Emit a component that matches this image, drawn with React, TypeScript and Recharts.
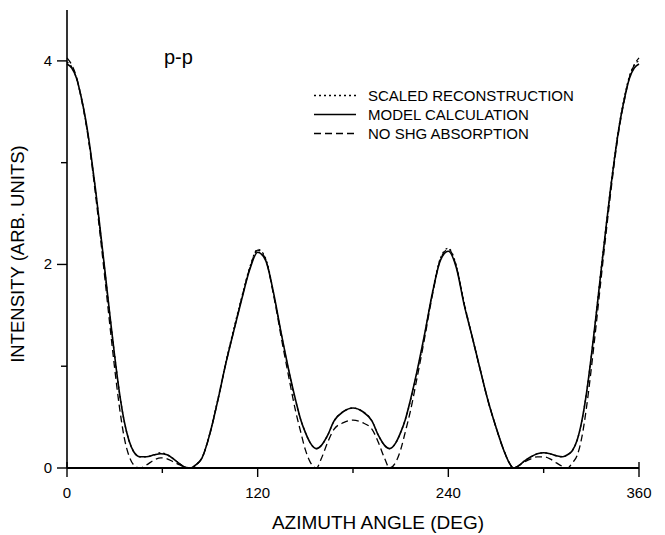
import { LineChart, Line, XAxis, YAxis, Legend, Label } from "recharts";

// azimuth angle (deg) shared by all three curves
const angles = [
  0, 3, 6, 9, 12, 15, 18, 21, 24, 27, 30, 33, 36, 39, 42, 46, 50, 55, 59, 63,
  67, 71, 75, 78, 81, 85, 90, 95, 100, 105, 110, 115, 120, 125, 130, 135, 140,
  144, 147, 150, 153, 157, 160, 164, 168, 174, 180, 186, 192, 196, 200, 203,
  207, 210, 213, 216, 220, 225, 230, 235, 240, 245, 250, 255, 260, 265, 270,
  275, 278, 281, 284, 288, 292, 296, 300, 304, 308, 312, 315, 318, 321, 324,
  327, 330, 333, 336, 339, 342, 345, 348, 351, 354, 357, 360,
];

const modelCalc = [
  3.97, 3.93, 3.83, 3.64, 3.4, 3.09, 2.73, 2.33, 1.92, 1.5, 1.1, 0.74, 0.46,
  0.27, 0.16, 0.11, 0.11, 0.13, 0.14, 0.13, 0.09, 0.04, 0.005, 0, 0.03, 0.1,
  0.34, 0.67, 1.03, 1.35, 1.66, 1.95, 2.12, 2.04, 1.72, 1.31, 0.93, 0.66, 0.48,
  0.35, 0.25, 0.19, 0.22, 0.32, 0.46, 0.555, 0.59, 0.555, 0.46, 0.32, 0.22,
  0.19, 0.25, 0.35, 0.48, 0.66, 0.93, 1.31, 1.72, 2.04, 2.13, 1.97, 1.6, 1.29,
  0.97, 0.66, 0.4, 0.17, 0.06, 0, 0.02, 0.07, 0.11, 0.14, 0.15, 0.14, 0.12,
  0.11, 0.13, 0.17, 0.27, 0.46, 0.74, 1.1, 1.5, 1.92, 2.33, 2.73, 3.09, 3.4,
  3.64, 3.83, 3.93, 3.97,
];

const scaledRecon = [
  3.99, 3.94, 3.83, 3.64, 3.39, 3.08, 2.72, 2.32, 1.91, 1.5, 1.1, 0.74, 0.46,
  0.27, 0.16, 0.11, 0.11, 0.13, 0.15, 0.13, 0.09, 0.04, 0.005, 0, 0.03, 0.1,
  0.35, 0.68, 1.04, 1.37, 1.68, 1.97, 2.15, 2.06, 1.72, 1.3, 0.92, 0.65, 0.48,
  0.35, 0.25, 0.19, 0.22, 0.32, 0.46, 0.555, 0.59, 0.555, 0.46, 0.32, 0.22,
  0.19, 0.25, 0.35, 0.48, 0.65, 0.92, 1.3, 1.73, 2.06, 2.16, 1.99, 1.62, 1.29,
  0.97, 0.66, 0.4, 0.17, 0.06, 0, 0.02, 0.07, 0.11, 0.14, 0.15, 0.14, 0.12,
  0.11, 0.13, 0.17, 0.27, 0.46, 0.74, 1.1, 1.5, 1.93, 2.34, 2.74, 3.1, 3.41,
  3.66, 3.85, 3.96, 4.0,
];

const noAbsorption = [
  4.03, 3.96, 3.84, 3.63, 3.38, 3.06, 2.68, 2.27, 1.84, 1.4, 0.98, 0.6, 0.3,
  0.12, 0.03, 0, 0.03, 0.08, 0.1, 0.09, 0.06, 0.03, 0.005, 0, 0.03, 0.1, 0.34,
  0.67, 1.03, 1.35, 1.67, 1.96, 2.14, 2.05, 1.7, 1.27, 0.86, 0.55, 0.36, 0.18,
  0.06, 0, 0.09, 0.25, 0.38, 0.445, 0.47, 0.445, 0.38, 0.25, 0.09, 0, 0.06,
  0.18, 0.36, 0.55, 0.86, 1.27, 1.7, 2.05, 2.15, 1.98, 1.61, 1.29, 0.97, 0.66,
  0.4, 0.17, 0.06, 0, 0.02, 0.06, 0.09, 0.11, 0.11, 0.09, 0.05, 0.015, 0, 0.05,
  0.12, 0.3, 0.6, 0.98, 1.4, 1.84, 2.27, 2.68, 3.06, 3.38, 3.63, 3.84, 3.96,
  4.03,
];

const xTicks = [0, 60, 120, 180, 240, 300, 360];
const yTicks = [0, 1, 2, 3, 4];

const series = [
  { key: "recon", name: "SCALED RECONSTRUCTION", dash: "2 3", width: 1.3 },
  { key: "model", name: "MODEL CALCULATION", dash: undefined, width: 1.6 },
  { key: "noabs", name: "NO SHG ABSORPTION", dash: "7 4", width: 1.3 },
];

const data = angles.map((a, i) => ({
  angle: a,
  model: modelCalc[i],
  recon: scaledRecon[i],
  noabs: noAbsorption[i],
}));

const FONT = "'Liberation Sans', Arial, Helvetica, sans-serif";

function XTick({ x, y, payload }: any) {
  const v = payload.value;
  const major = v % 120 === 0;
  const end = v === 0 || v === 360;
  return (
    <g>
      <line
        x1={x}
        x2={x}
        y1={end ? y - 6 : y}
        y2={y + (major ? 9 : 5)}
        stroke="#000"
        strokeWidth={1.4}
      />
      {major && (
        <text
          x={x}
          y={y + 30}
          textAnchor="middle"
          fontSize={15}
          fontFamily={FONT}
          fill="#000"
        >
          {v}
        </text>
      )}
    </g>
  );
}

function YTick({ x, y, payload }: any) {
  const v = payload.value;
  const major = v % 2 === 0;
  return (
    <g>
      <line
        x1={x - (major ? 10 : 6)}
        x2={x}
        y1={y}
        y2={y}
        stroke="#000"
        strokeWidth={1.4}
      />
      {major && (
        <text
          x={x - 15}
          y={y + 5}
          textAnchor="end"
          fontSize={15}
          fontFamily={FONT}
          fill="#000"
        >
          {v}
        </text>
      )}
    </g>
  );
}

function LegendBox() {
  return (
    <div style={{ fontFamily: FONT, fontSize: 15, color: "#000" }}>
      {series.map((s) => (
        <div
          key={s.key}
          style={{ display: "flex", alignItems: "center", height: 19 }}
        >
          <svg width={44} height={19} style={{ marginRight: 11 }}>
            <line
              x1={1}
              x2={43}
              y1={9.5}
              y2={9.5}
              stroke="#000"
              strokeWidth={s.width}
              strokeDasharray={s.dash}
            />
          </svg>
          <span style={{ lineHeight: "19px", whiteSpace: "nowrap" }}>
            {s.name}
          </span>
        </div>
      ))}
    </div>
  );
}

export default function App() {
  return (
    <div
      style={{
        position: "absolute",
        left: 0,
        top: 0,
        width: 665,
        height: 535,
        background: "#fff",
      }}
    >
      <LineChart
        width={665}
        height={535}
        data={data}
        margin={{ top: 10, right: 26, bottom: 0, left: 0 }}
      >
        <XAxis
          dataKey="angle"
          type="number"
          domain={[0, 360]}
          ticks={xTicks}
          interval={0}
          height={67}
          tickSize={0}
          tickMargin={0}
          tickLine={false}
          tick={(p: any) => <XTick {...p} />}
          axisLine={{ stroke: "#000", strokeWidth: 2 }}
        >
          <Label
            content={({ viewBox }: any) => (
              <text
                x={viewBox.x + viewBox.width / 2 + 25}
                y={viewBox.y + 61}
                textAnchor="middle"
                fontSize={19}
                fontFamily={FONT}
                fill="#000"
              >
                AZIMUTH ANGLE (DEG)
              </text>
            )}
          />
        </XAxis>
        <YAxis
          type="number"
          domain={[0, 4.5]}
          ticks={yTicks}
          interval={0}
          allowDataOverflow
          width={67}
          tickSize={0}
          tickMargin={0}
          tickLine={false}
          tick={(p: any) => <YTick {...p} />}
          axisLine={{ stroke: "#000", strokeWidth: 1.6 }}
        >
          <Label
            content={({ viewBox }: any) => {
              const cx = viewBox.x + 17;
              const cy = viewBox.y + viewBox.height / 2 + 15;
              return (
                <text
                  x={cx}
                  y={cy}
                  transform={`rotate(-90, ${cx}, ${cy})`}
                  textAnchor="middle"
                  dominantBaseline="central"
                  fontSize={18.5}
                  fontFamily={FONT}
                  fill="#000"
                >
                  INTENSITY (ARB. UNITS)
                </text>
              );
            }}
          />
        </YAxis>
        <Legend
          layout="vertical"
          align="center"
          verticalAlign="middle"
          content={() => <LegendBox />}
          wrapperStyle={{ top: 86, left: 313, width: 300 }}
        />
        <Line
          type="monotone"
          dataKey="noabs"
          name="NO SHG ABSORPTION"
          stroke="#000"
          strokeWidth={1.3}
          strokeDasharray="7 4"
          dot={false}
          isAnimationActive={false}
        />
        <Line
          type="monotone"
          dataKey="recon"
          name="SCALED RECONSTRUCTION"
          stroke="#000"
          strokeWidth={1.3}
          strokeDasharray="2 3"
          dot={false}
          isAnimationActive={false}
        />
        <Line
          type="monotone"
          dataKey="model"
          name="MODEL CALCULATION"
          stroke="#000"
          strokeWidth={1.6}
          dot={false}
          isAnimationActive={false}
        />
      </LineChart>
      <div
        style={{
          position: "absolute",
          left: 164,
          top: 46,
          fontFamily: FONT,
          fontSize: 20,
          color: "#000",
        }}
      >
        p-p
      </div>
    </div>
  );
}
